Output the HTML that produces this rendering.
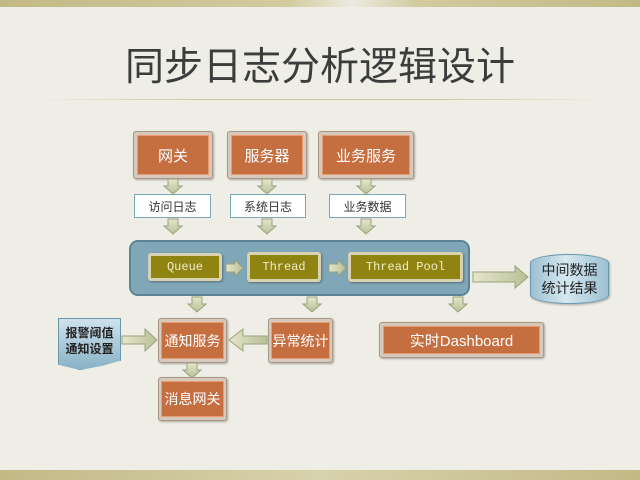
<!DOCTYPE html>
<html><head><meta charset="utf-8"><style>
body{margin:0;width:640px;height:480px;overflow:hidden;background:#efeee6;position:relative;font-family:"Liberation Sans","Noto Sans CJK SC",sans-serif}
.a{position:absolute}
.top{left:0;top:0;width:640px;height:7px;background:linear-gradient(90deg,#c2b985,#d2cba0 45%,#ecebe0 55%,#d2cba0 65%,#c2b985)}
.bot{left:0;top:470px;width:640px;height:10px;background:linear-gradient(90deg,#c2b985,#d8d2ad 50%,#c2b985)}
.title{left:0;top:36px;width:640px;text-align:center;font-size:39px;color:#3c3c3c;letter-spacing:0px}
.line{left:32px;top:99px;width:576px;height:1px;background:linear-gradient(90deg,transparent,#cfc69a 30%,#cfc69a 70%,transparent)}
.ob{background:#d6c9bc;border:1px solid #a89888;border-radius:3px;box-shadow:1px 1px 2px rgba(0,0,0,.3);box-sizing:border-box;padding:3px}
.ob>div{background:#c56e40;width:100%;height:100%;color:#fff;display:flex;align-items:center;justify-content:center;font-size:15px;box-sizing:border-box;border:1px solid #e89c70;white-space:nowrap}
.ob.s{padding:3px 2px}
.ob.s>div{font-size:14px}
.lb{background:#fff;border:1.5px solid #7aa8bc;box-sizing:border-box;font-size:12px;color:#333;display:flex;align-items:center;justify-content:center}
.cont{left:129px;top:240px;width:341px;height:56px;background:#80a7b8;border:2px solid #5b8597;border-radius:9px;box-sizing:border-box}
.gb{background:#d8d2b0;border-radius:3px;padding:3px;box-sizing:border-box;box-shadow:1px 1px 2px rgba(0,0,0,.35)}
.gb>div{background:#8f8412;width:100%;height:100%;color:#f1ecc8;font-family:"Liberation Mono",monospace;font-size:12px;display:flex;align-items:center;justify-content:center}
</style></head><body>
<div class="a top"></div>
<div class="a bot"></div>
<div class="a title">同步日志分析逻辑设计</div>
<div class="a line"></div>

<div class="a ob" style="left:133px;top:131px;width:80px;height:48px"><div>网关</div></div>
<div class="a ob" style="left:227px;top:131px;width:80px;height:48px"><div>服务器</div></div>
<div class="a ob" style="left:318px;top:131px;width:96px;height:48px"><div>业务服务</div></div>

<div class="a lb" style="left:134px;top:194px;width:77px;height:24px">访问日志</div>
<div class="a lb" style="left:230px;top:194px;width:76px;height:24px">系统日志</div>
<div class="a lb" style="left:329px;top:194px;width:77px;height:24px">业务数据</div>

<div class="a cont"></div>
<div class="a gb" style="left:148px;top:253px;width:74px;height:28px"><div>Queue</div></div>
<div class="a gb" style="left:247px;top:252px;width:74px;height:30px"><div>Thread</div></div>
<div class="a gb" style="left:348px;top:252px;width:115px;height:30px"><div>Thread Pool</div></div>

<div class="a" style="left:530px;top:254px;width:79px;height:50px;background:linear-gradient(90deg,#9cc0d2,#d6e8f0 45%,#9cc0d2);border:1px solid #6a97ac;border-radius:40px/9px;box-sizing:border-box;font-size:14px;color:#222;display:flex;align-items:center;justify-content:center;text-align:center;line-height:18px;box-shadow:1px 1px 2px rgba(0,0,0,.3)">中间数据<br>统计结果</div>

<div class="a" style="left:58px;top:318px;width:63px;height:52px;background:linear-gradient(#cfe2ec,#88b2c6);border:1px solid #6a97ac;box-sizing:border-box;font-size:12px;font-weight:bold;color:#222;text-align:center;line-height:16px;padding-top:6px;clip-path:polygon(0 0,100% 0,100% 82%,70% 92%,35% 100%,0 90%)">报警阈值<br>通知设置</div>

<div class="a ob s" style="left:158px;top:318px;width:69px;height:45px"><div>通知服务</div></div>
<div class="a ob s" style="left:268px;top:318px;width:65px;height:45px"><div>异常统计</div></div>
<div class="a ob" style="left:379px;top:322px;width:165px;height:36px"><div>实时Dashboard</div></div>
<div class="a ob s" style="left:158px;top:377px;width:69px;height:44px"><div>消息网关</div></div>

<svg class="a" style="left:0;top:0" width="640" height="480">
<defs>
<linearGradient id="g" x1="0" x2="0" y1="0" y2="1"><stop offset="0" stop-color="#e6e6cc"/><stop offset="1" stop-color="#b8bf96"/></linearGradient>
<linearGradient id="gh" x1="0" x2="1" y1="0" y2="0"><stop offset="0" stop-color="#e6e6cc"/><stop offset="1" stop-color="#b8bf96"/></linearGradient>
<g id="d"><path d="M-5 0H5V7H9L0 15L-9 7H-5Z" fill="url(#g)" stroke="#9aa27c" stroke-width="1"/></g>
<g id="r"><path d="M0 -4H9V-8L17 0L9 8V4H0Z" fill="url(#gh)" stroke="#9aa27c" stroke-width="1"/></g>
</defs>
<use href="#d" x="173" y="179"/><use href="#d" x="267" y="179"/><use href="#d" x="366" y="179"/>
<use href="#d" x="173" y="219"/><use href="#d" x="267" y="219"/><use href="#d" x="366" y="219"/>
<use href="#d" x="197" y="297"/><use href="#d" x="312" y="297"/><use href="#d" x="458" y="297"/>
<use href="#d" x="192" y="363"/>
<use href="#r" x="226" y="268"/><use href="#r" x="329" y="268"/>
<path d="M473 272H515V266L528 277L515 288V282H473Z" fill="url(#gh)" stroke="#9aa27c"/>
<path d="M122 336H145V329L157 340L145 351V344H122Z" fill="url(#gh)" stroke="#9aa27c"/>
<path d="M267 336H243V329L229 340L243 351V344H267Z" fill="url(#gh)" stroke="#9aa27c"/>
</svg>
</body></html>
